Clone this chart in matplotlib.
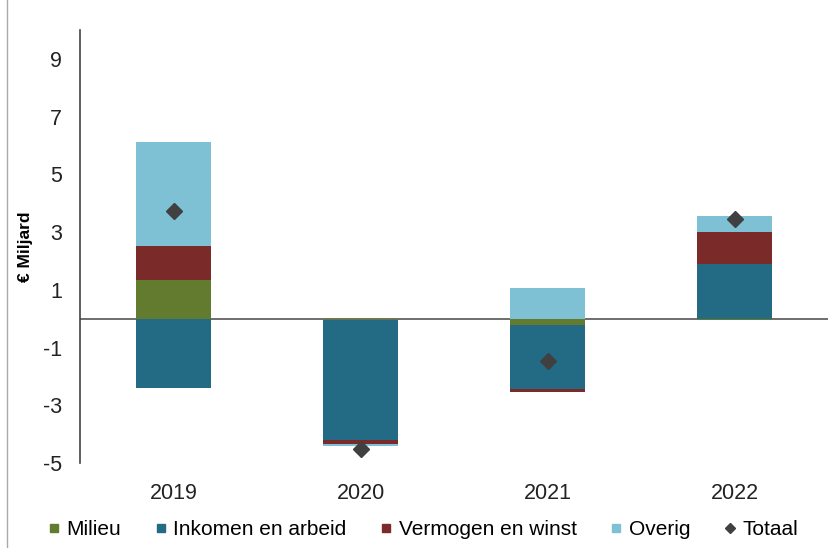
import matplotlib
matplotlib.use("Agg")
import matplotlib.pyplot as plt
from matplotlib.lines import Line2D
import numpy as np

plt.rcParams['font.family'] = ['Liberation Sans', 'DejaVu Sans']
plt.rcParams['axes.unicode_minus'] = False

# data, in billions of euro
years = ['2019', '2020', '2021', '2022']
milieu = [1.35, -0.05, -0.23, -0.05]
inkomen = [-2.40, -4.15, -2.20, 1.90]
vermogen = [1.18, -0.14, -0.10, 1.10]
overig = [3.58, -0.06, 1.06, 0.57]
totaal = [3.72, -4.50, -1.47, 3.45]

series = [('Milieu', milieu, '#637b2f'),
          ('Inkomen en arbeid', inkomen, '#236b85'),
          ('Vermogen en winst', vermogen, '#7b2a2a'),
          ('Overig', overig, '#7ec1d4')]

fig = plt.figure(figsize=(8.29, 5.48), dpi=100)
ax = fig.add_axes([0.0965, 0.155, 0.9025, 0.79])

x = np.arange(len(years))
pos_base = np.zeros(len(years))
neg_base = np.zeros(len(years))
for name, vals, col in series:
    vals = np.array(vals)
    base = np.where(vals >= 0, pos_base, neg_base)
    ax.bar(x, vals, 0.4, bottom=base, color=col, label=name, zorder=2)
    pos_base = pos_base + np.where(vals >= 0, vals, 0)
    neg_base = neg_base + np.where(vals < 0, vals, 0)

ax.plot(x, totaal, linestyle='none', marker='D', markersize=8,
        color='#404040', label='Totaal', zorder=3)

ax.axhline(0, color='#555555', linewidth=1.2, zorder=1)

ax.set_xlim(-0.5, 3.5)
ax.set_ylim(-5, 10)
ax.set_yticks(range(-5, 10, 2))
ax.set_xticks(x)
ax.set_xticklabels(years)
ax.tick_params(axis='both', length=0, labelsize=15.5, colors='#222222')
ax.tick_params(axis='y', pad=13)
ax.tick_params(axis='x', pad=14)
for s in ['top', 'right', 'bottom']:
    ax.spines[s].set_visible(False)
ax.spines['left'].set_color('#444444')
ax.spines['left'].set_linewidth(1.2)

ax.set_ylabel('€ Miljard', fontsize=12.5, fontweight='bold')
ax.yaxis.set_label_coords(-0.063, 0.5)

square = [Line2D([], [], linestyle='none', marker='s', markersize=6, color=c)
          for _, _, c in series]
diamond = Line2D([], [], linestyle='none', marker='D', markersize=5, color='#404040')
fig.legend(square + [diamond], [s[0] for s in series] + ['Totaal'],
           loc='center', bbox_to_anchor=(0.51, 0.033), ncol=5, frameon=False,
           fontsize=15, handletextpad=0.3, columnspacing=1.6, handlelength=0.6)

# thin frame line at the left edge
fig.add_artist(Line2D([0.008, 0.008], [0, 1], color='#aaaaaa', linewidth=1))

fig.savefig('out.png', dpi=100)
